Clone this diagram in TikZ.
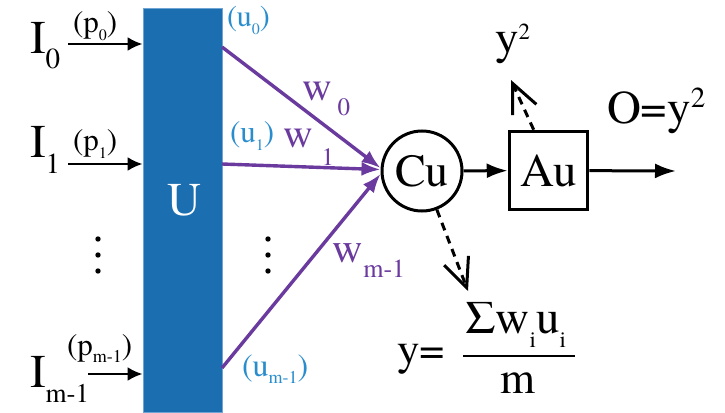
\documentclass[tikz,border=0pt]{standalone}
\usepackage{fontspec}
\setmainfont{texgyretermes-regular.otf}
\usetikzlibrary{arrows.meta}

\definecolor{ublue}{RGB}{27,111,176}
\definecolor{uedge}{RGB}{110,165,212}
\definecolor{ulabel}{RGB}{40,140,205}
\definecolor{wpurple}{RGB}{106,58,158}

\newcommand{\fs}[1]{\fontsize{#1}{#1}\selectfont}
\newcommand{\lowsub}[3]{\raisebox{-#1pt}{\fs{#2}#3}}
\newcommand{\highsup}[3]{\raisebox{#1pt}{\fs{#2}#3}}

\begin{document}
\begin{tikzpicture}[x=1pt, y=-1pt,
    lbl/.style={anchor=base west, inner sep=0pt, outer sep=0pt},
    inarrow/.style={-{Latex[length=15pt,width=14pt]}, line width=2.6pt},
    warrow/.style={-{Latex[length=19pt,width=14pt]}, line width=3.4pt, wpurple},
    outarrow/.style={-{Latex[length=21pt,width=15pt]}, line width=3pt},
    dasharrow/.style={-{Straight Barb[length=29pt,width=26pt]}, line width=3pt, dash pattern=on 8pt off 6pt}]
    \useasboundingbox (0,0) rectangle (725,412);

    % unit block
    \node (U) [fill=ublue, draw=uedge, line width=0.8pt, minimum width=79pt, minimum height=404pt, inner sep=0pt] at (182.5,210) {};
    \node (Ulbl) [lbl, white] at (167,215) {\fs{47}U};

    % inputs
    \node (I0) [lbl] at (30,53) {\fs{47}I\lowsub{15}{29}{0}};
    \node (I1) [lbl] at (30,157) {\fs{47}I\lowsub{16}{29}{1}};
    \node (Im) [lbl] at (30,387) {\fs{47}I\lowsub{15}{27}{m-1}};
    \node (p0) [lbl] at (73,33) {\fs{31}(p\lowsub{8}{16}{0})};
    \node (p1) [lbl] at (73,150) {\fs{31}(p\lowsub{8}{16}{1})};
    \node (pm) [lbl] at (67,355) {\fs{31}(p\lowsub{7}{18}{m-1})};
    \coordinate (a0) at (68,44);
    \coordinate (a1) at (68,164);
    \coordinate (am) at (88,374);
    \draw[inarrow] (a0) -- (a0 -| U.west);
    \draw[inarrow] (a1) -- (a1 -| U.west);
    \draw[inarrow] (am) -- (am -| U.west);
    \foreach \y in {239,255,271} {
        \fill (98,\y) circle (2.7pt);
        \fill (268,\y) circle (2.7pt);
    }

    % unit outputs
    \node (u0) [lbl, ulabel] at (227,27) {\fs{30}(u\lowsub{8}{16}{0})};
    \node (u1) [lbl, ulabel] at (230,142) {\fs{31}(u\lowsub{8}{16}{1})};
    \node (um) [lbl, ulabel] at (242,376) {\fs{32}(u\lowsub{7}{18}{m-1})};
    \coordinate (s0) at (222,47);
    \coordinate (s1) at (222,164);
    \coordinate (sm) at (222,368);

    % combination and activation
    \node (Cu) [circle, draw, line width=3pt, minimum size=80pt, inner sep=0pt] at (422,171) {\fs{46}Cu};
    \node (Au) [draw, line width=3.5pt, minimum size=78pt, inner sep=0pt] at (548.5,170.5) {\fs{47}Au};

    % weights
    \draw[warrow] (s0) -- (Cu.176);
    \draw[warrow] (s1) -- (Cu.178);
    \draw[warrow] (sm) -- (Cu.184);
    \node (w0) [lbl, wpurple] at (302,100) {\fs{41}w\kern6pt\lowsub{15}{25}{0}};
    \node (w1) [lbl, wpurple] at (283,147) {\fs{41}w\kern9pt\lowsub{18}{25}{1}};
    \node (wm) [lbl, wpurple] at (332,262) {\fs{42}w\kern1pt\lowsub{15}{26}{m-1}};

    % output
    \coordinate (o) at (676,171);
    \draw[outarrow] (Cu) -- (Au);
    \draw[outarrow] (Au) -- (o);
    \node (O) [lbl] at (607,123) {\fs{47}O=y\highsup{16}{29}{2}};

    % dashed results
    \coordinate (tu) at (511,80);
    \coordinate (td) at (468,291);
    \draw[dasharrow] (Au.110) -- (tu);
    \draw[dasharrow] (Cu.-69) -- (td);
    \node (ysq) [lbl] at (495,54) {\fs{47}y\highsup{14}{23}{2}};
    \node (yeq) [lbl] at (397,364) {\fs{45}y=};
    \node (num) [lbl] at (465,333) {\fs{47}Σw\lowsub{14}{23}{i}u\lowsub{14}{23}{i}};
    \coordinate (fl) at (463,356);
    \coordinate (fr) at (575,356);
    \draw[line width=2pt] (fl) -- (fr);
    \node (den) [lbl] at (500,393) {\fs{45}m};
\end{tikzpicture}
\end{document}
